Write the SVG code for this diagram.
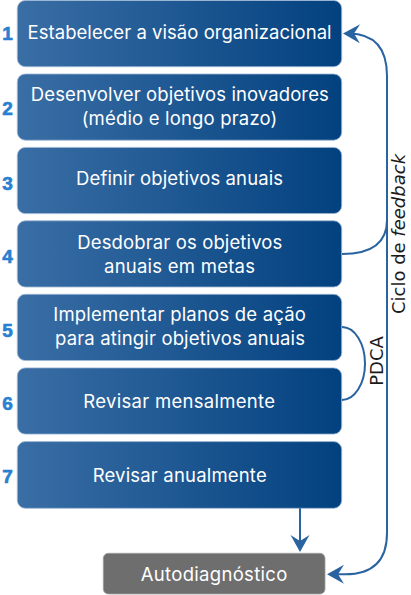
<svg xmlns="http://www.w3.org/2000/svg" width="411" height="595" viewBox="0 0 411 595">
  <defs>
    <linearGradient id="boxGrad" x1="0" y1="0" x2="1" y2="0">
      <stop offset="0" stop-color="#3a6ea5"/>
      <stop offset="1" stop-color="#02417f"/>
    </linearGradient>
    <marker id="arrow" markerUnits="userSpaceOnUse" viewBox="-18 -11 19 22" markerWidth="19" markerHeight="22" refX="-6" refY="0" orient="auto">
      <path d="M0,0 L-17,-9.5 L-11,0 L-17,9.5 Z" fill="#2a64a0"/>
    </marker>
    <style>
      .box { fill: url(#boxGrad); stroke: #9db8d6; stroke-width: 0.8; }
      .gray { fill: #6e6e6e; stroke: #a0a0a0; stroke-width: 0.8; }
      .t { font-family: "Inter", "Liberation Sans", sans-serif; font-size: 18.5px; fill: #ffffff; text-anchor: middle; }
      .num { font-family: "Liberation Sans", "DejaVu Sans", sans-serif; font-weight: bold; font-size: 19px; fill: #2a7fd0; stroke: #2a7fd0; stroke-width: 0.6; text-anchor: middle; }
      .lbl { font-family: "DejaVu Sans", sans-serif; font-size: 18px; fill: #1a1a1a; text-anchor: middle; }
      .conn { fill: none; stroke: #2a64a0; stroke-width: 2; }
    </style>
  </defs>

  <g id="node1">
    <rect class="box" x="17.3" y="0.5" width="324.4" height="66.2" rx="8"/>
    <text class="num" x="7.5" y="39.5">1</text>
    <text class="t" x="179.6" y="39.3" textLength="304" lengthAdjust="spacing">Estabelecer a visão organizacional</text>
  </g>
  <g id="node2">
    <rect class="box" x="17.3" y="74" width="324.4" height="66.2" rx="8"/>
    <text class="num" x="7.5" y="115">2</text>
    <text class="t" x="179.8" y="100.7" textLength="298" lengthAdjust="spacing">Desenvolver objetivos inovadores</text>
    <text class="t" x="179.5" y="125" textLength="195.6" lengthAdjust="spacing">(médio e longo prazo)</text>
  </g>
  <g id="node3">
    <rect class="box" x="17.3" y="147.4" width="324.4" height="66.2" rx="8"/>
    <text class="num" x="7.5" y="190">3</text>
    <text class="t" x="179.6" y="185" textLength="207" lengthAdjust="spacing">Definir objetivos anuais</text>
  </g>
  <g id="node4">
    <rect class="box" x="17.3" y="220.8" width="324.4" height="66.2" rx="8"/>
    <text class="num" x="7.5" y="263.3">4</text>
    <text class="t" x="179.8" y="249.3" textLength="205" lengthAdjust="spacing">Desdobrar os objetivos</text>
    <text class="t" x="179.5" y="273.3" textLength="151" lengthAdjust="spacing">anuais em metas</text>
  </g>
  <g id="node5">
    <rect class="box" x="17.3" y="294.3" width="324.4" height="66.2" rx="8"/>
    <text class="num" x="7.5" y="336.7">5</text>
    <text class="t" x="179.6" y="320.7" textLength="252.7" lengthAdjust="spacing">Implementar planos de ação</text>
    <text class="t" x="180" y="345" textLength="250" lengthAdjust="spacing">para atingir objetivos anuais</text>
  </g>
  <g id="node6">
    <rect class="box" x="17.3" y="367.9" width="324.4" height="66.2" rx="8"/>
    <text class="num" x="7.5" y="410">6</text>
    <text class="t" x="179.2" y="408.3" textLength="191.7" lengthAdjust="spacing">Revisar mensalmente</text>
  </g>
  <g id="node7">
    <rect class="box" x="17.3" y="441.6" width="324.4" height="66.7" rx="8"/>
    <text class="num" x="7.5" y="483.3">7</text>
    <text class="t" x="179.7" y="482.3" textLength="174" lengthAdjust="spacing">Revisar anualmente</text>
  </g>
  <g id="node8">
    <rect class="gray" x="103.3" y="553.3" width="221.7" height="40.7" rx="5"/>
    <text class="t" x="214" y="581" font-size="19.5" textLength="146.6" lengthAdjust="spacing">Autodiagnóstico</text>
  </g>

  <g id="connectors">
    <path class="conn" d="M300,508.3 L300,546" marker-end="url(#arrow)"/>
    <path class="conn" d="M342,254 Q387,254 387,220 L387,76 Q387,34 349,33.5" marker-end="url(#arrow)"/>
    <path class="conn" d="M387,220 L387,533 Q387,574.3 345,574.3 L333,574.3" marker-end="url(#arrow)"/>
    <path class="conn" d="M342,327 A23 36.5 0 0 1 342,400"/>
  </g>

  <g id="labels">
    <text class="lbl" transform="translate(405,234) rotate(-90)">Ciclo de <tspan font-style="italic">feedback</tspan></text>
    <text class="lbl" transform="translate(382.7,361) rotate(-90)" font-size="18.5">PDCA</text>
  </g>
</svg>
